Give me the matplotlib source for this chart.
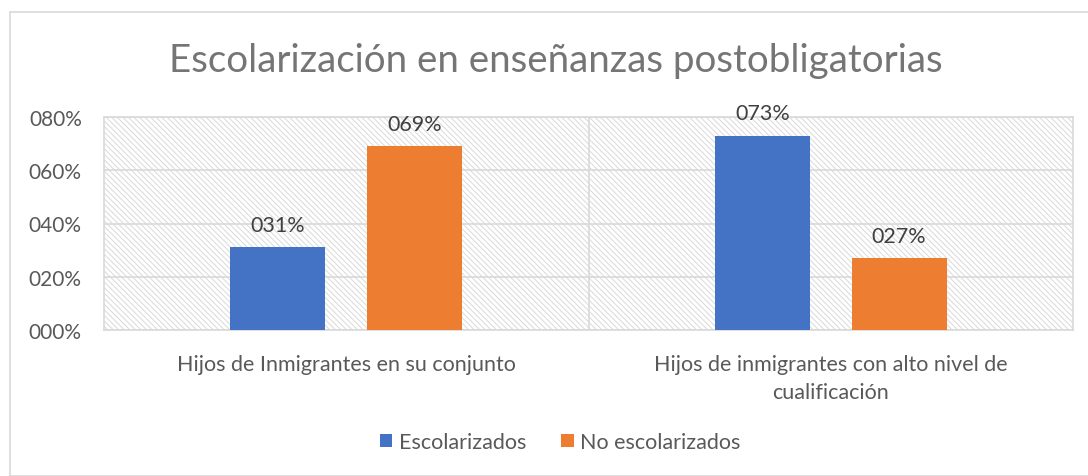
import matplotlib
matplotlib.use("Agg")
import matplotlib.pyplot as plt
from matplotlib.patches import Rectangle
from matplotlib.ticker import FuncFormatter, MultipleLocator

categories = ["Hijos de Inmigrantes en su conjunto",
              "Hijos de inmigrantes con alto nivel de\ncualificación"]
series_names = ["Escolarizados", "No escolarizados"]
escolarizados = [0.31, 0.73]
no_escolarizados = [0.69, 0.27]
colors = ["#4472C4", "#ED7D31"]
title = "Escolarización en enseñanzas postobligatorias"

plt.rcParams['font.family'] = ['Lato', 'DejaVu Sans']
plt.rcParams['hatch.color'] = '#d9d9d9'
plt.rcParams['hatch.linewidth'] = 0.7
W, H = 1088, 477
fig = plt.figure(figsize=(W/100, H/100), dpi=100)

# outer frame
fig.patches.append(Rectangle((10/W, 0), 1.2, 1 - 13/H, transform=fig.transFigure,
                             fill=False, edgecolor="#d9d9d9", linewidth=1.2))

ax = fig.add_axes([104/W, 1 - 331/H, (1073-104)/W, (331-118)/H])
ax.set_xlim(-0.5, 1.5)
ax.set_ylim(0, 0.8)

bg = Rectangle((0, 0), 1, 1, transform=ax.transAxes, facecolor="white",
               edgecolor="#d9d9d9", hatch="\\\\\\\\\\\\", linewidth=0, zorder=0)
ax.add_patch(bg)

for s in ax.spines.values():
    s.set_visible(True)
    s.set_color("#d9d9d9")
    s.set_linewidth(1.2)

ax.yaxis.set_major_locator(MultipleLocator(0.2))
ax.yaxis.set_major_formatter(FuncFormatter(lambda v, p: f"{v*100:03.0f}%"))
ax.grid(axis="y", color="#d9d9d9", linewidth=1.2, zorder=1)
ax.axvline(0.5, color="#d9d9d9", linewidth=1.2, zorder=1)
ax.set_axisbelow(True)

x = [0, 1]
w = 0.196
off = 0.141
for vals, c, name, sgn in [(escolarizados, colors[0], series_names[0], -1),
                           (no_escolarizados, colors[1], series_names[1], 1)]:
    bars = ax.bar([xi + sgn*off for xi in x], vals, width=w, color=c, label=name, zorder=3)
    for b, v in zip(bars, vals):
        ax.text(b.get_x() + b.get_width()/2, v + 0.047, f"{v*100:03.0f}%",
                ha="center", va="bottom", fontsize=15.5, color="#404040", zorder=4)

ax.set_xticks(x)
ax.set_xticklabels(categories, fontsize=15.5, color="#595959", linespacing=1.55,
                   multialignment="center")
ax.tick_params(axis="x", length=0, pad=17)
ax.tick_params(axis="y", length=0, labelsize=15, labelcolor="#595959", pad=16)

fig.text(556/W, 1 - 61/H, title, ha="center", va="center",
         fontsize=27.7, color="#757575")

fig.legend(handles=[ax.containers[0], ax.containers[1]],
           labels=series_names, loc="center", bbox_to_anchor=(560/W, 1 - 443/H),
           ncol=2, frameon=False, fontsize=15.5, handlelength=0.6, handleheight=0.6,
           columnspacing=1.6, handletextpad=0.3, labelcolor="#595959")

fig.savefig("out.png", dpi=100)
